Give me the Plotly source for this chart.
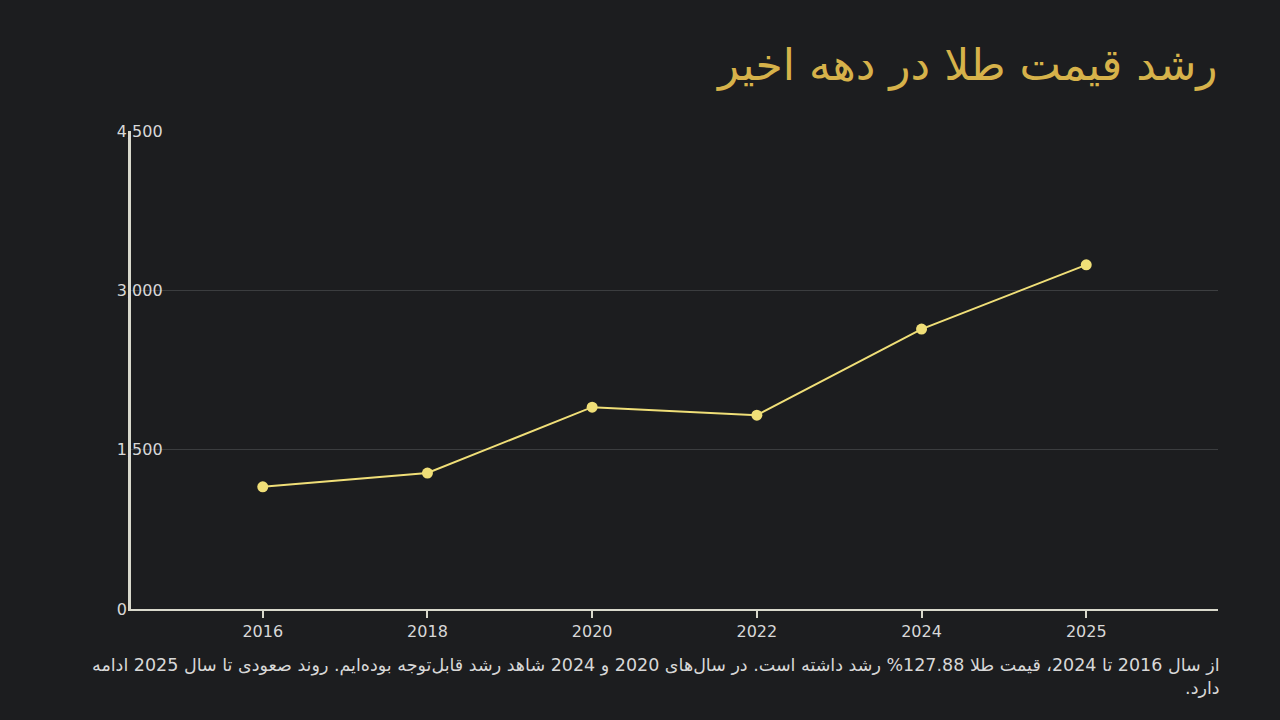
import plotly.graph_objects as go

years = ["2016", "2018", "2020", "2022", "2024", "2025"]
prices = [1150, 1280, 1900, 1825, 2635, 3240]
y_ticks = [0, 1500, 3000, 4500]

title_text = "رشد قیمت طلا در دهه اخیر"
note_line1 = ("از سال 2016 تا 2024، قیمت طلا 127.88% رشد داشته است. در سال‌های 2020 و 2024 "
              "شاهد رشد قابل‌توجه بوده‌ایم. روند صعودی تا سال 2025 ادامه")
note_line2 = "دارد.\u200f"

bg = "#1c1d1f"
axis_col = "#d9d9cc"
FONT = "DejaVu Sans, sans-serif"

fig = go.Figure()
fig.add_trace(go.Scatter(
    x=years, y=prices, mode="lines+markers",
    line=dict(color="#f0df78", width=2),
    marker=dict(color="#f0df78", size=11),
    hoverinfo="x+y", showlegend=False,
))

fig.update_layout(
    width=1280, height=720,
    paper_bgcolor=bg, plot_bgcolor=bg,
    margin=dict(l=131, r=62, t=131, b=111),
    font=dict(family=FONT, color="#d8d8d8", size=15),
    separators=".,",
    xaxis=dict(
        type="category", range=[-0.8, 5.8],
        showgrid=False, showline=True, linecolor=axis_col, linewidth=2,
        ticks="outside", ticklen=7, tickwidth=2, tickcolor=axis_col,
        tickfont=dict(size=16, color="#d8d8d8", family=FONT),
        zeroline=False,
    ),
    yaxis=dict(
        range=[0, 4500], tickvals=y_ticks, tickformat=",d",
        showgrid=True, gridcolor="#3b3d3f", gridwidth=1,
        showline=True, linecolor=axis_col, linewidth=3,
        ticks="", zeroline=False,
        ticklabelposition="inside", ticklabelstandoff=-14,
        ticklabeloverflow="allow",
        tickfont=dict(size=16, color="#d8d8d8", family=FONT),
    ),
    annotations=[
        dict(text=title_text, xref="paper", yref="paper", x=1.0, y=1.0,
             xanchor="right", yanchor="bottom", yshift=38, xshift=2, showarrow=False,
             font=dict(size=44, color="#d6b24a", family=FONT)),
        dict(text=note_line1 + "<br>" + note_line2, xref="paper", yref="paper", x=1.0, y=0.0,
             xanchor="right", yanchor="top", yshift=-44, xshift=4, showarrow=False, align="right",
             font=dict(size=17.5, color="#d8d8d8", family=FONT)),
    ],
)

fig.write_html("out.html")
